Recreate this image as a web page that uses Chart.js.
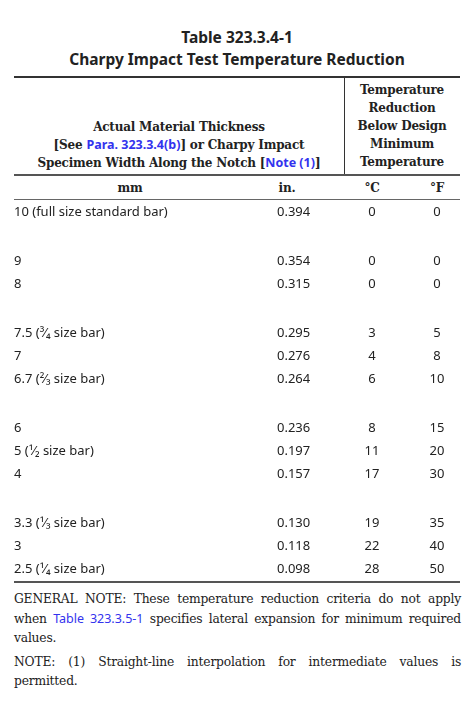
<!DOCTYPE html>
<html><head><meta charset="utf-8">
<script src="https://cdn.jsdelivr.net/npm/chart.js@4"></script>
<style>
body{margin:0;width:468px;height:715px;background:#fff;position:relative;font-family:"DejaVu Serif",serif;color:#222;}
.abs{position:absolute;}
.title{left:0;width:474px;text-align:center;font-family:"Noto Sans",sans-serif;font-weight:bold;font-size:15.5px;line-height:22px;top:26px;color:#222;}
.rule{left:14px;width:446px;background:#333;}
.hdr{font-weight:bold;font-size:12px;line-height:18px;text-align:center;letter-spacing:-0.2px;}
a{color:#3333ee;text-decoration:none;font-family:"Noto Sans",sans-serif;font-weight:bold;font-size:12.5px;letter-spacing:0;}
.note{left:14px;width:447px;font-size:12.3px;line-height:19px;text-align:justify;letter-spacing:-0.2px;}
.note a{font-weight:normal;}
</style></head><body>
<div class="abs title">Table 323.3.4-1<br>Charpy Impact Test Temperature Reduction</div>
<div class="abs rule" style="top:76px;height:2px"></div>
<div class="abs" style="left:344px;top:77px;width:1px;height:98px;background:#333"></div>
<div class="abs hdr" style="left:14px;width:330px;top:118px">Actual Material Thickness<br>[See <a>Para. 323.3.4(b)</a>] or Charpy Impact<br>Specimen Width Along the Notch [<a>Note (1)</a>]</div>
<div class="abs hdr" style="left:344px;width:116px;top:81px">Temperature<br>Reduction<br>Below Design<br>Minimum<br>Temperature</div>
<div class="abs rule" style="top:174px;height:2px;background:#555"></div>
<div class="abs hdr" style="left:100px;width:60px;top:179px">mm</div>
<div class="abs hdr" style="left:262px;width:50px;top:179px">in.</div>
<div class="abs hdr" style="left:352px;width:40px;top:179px">°C</div>
<div class="abs hdr" style="left:417px;width:40px;top:179px">°F</div>
<div class="abs rule" style="top:199px;height:1px;background:#666"></div>
<div class="abs" style="left:0;top:201px;width:468px;height:380px"><canvas id="c"></canvas></div>
<div class="abs rule" style="top:581px;height:2px;background:#555"></div>
<div class="abs note" style="top:590px">GENERAL NOTE: These temperature reduction criteria do not apply when <a>Table 323.3.5-1</a> specifies lateral expansion for minimum required values.</div>
<div class="abs note" style="top:653px">NOTE: (1) Straight-line interpolation for intermediate values is permitted.</div>
<script>
const mmLabels=["10 (full size standard bar)","9","8","7.5 (³⁄₄ size bar)","7","6.7 (²⁄₃ size bar)","6","5 (¹⁄₂ size bar)","4","3.3 (¹⁄₃ size bar)","3","2.5 (¹⁄₄ size bar)"];
const inches=["0.394","0.354","0.315","0.295","0.276","0.264","0.236","0.197","0.157","0.130","0.118","0.098"];
const degC=[0,0,0,3,4,6,8,11,17,19,22,28];
const degF=[0,0,0,5,8,10,15,20,30,35,40,50];
const groups=[0,1,1,2,2,2,3,3,3,4,4,4];
const slots=groups.map((g,i)=>i+g*1.1);
const cols=[{x:14,align:'left',data:mmLabels},{x:277,align:'left',data:inches},{x:372,align:'center',data:degC},{x:437,align:'center',data:degF}];
const textPlugin={id:'txt',afterDatasetsDraw(chart){
 const ctx=chart.ctx;ctx.save();ctx.fillStyle='#222';ctx.font='13px "Noto Sans", sans-serif';ctx.textBaseline='middle';
 chart.data.datasets.forEach((ds,di)=>{const meta=chart.getDatasetMeta(di);ctx.textAlign=cols[di].align;
  meta.data.forEach((el,i)=>ctx.fillText(String(ds.labels[i]),el.x,el.y));});
 ctx.restore();}};
new Chart(document.getElementById('c'),{type:'scatter',
 data:{datasets:cols.map(c=>({labels:c.data,data:c.data.map((v,i)=>({x:c.x,y:slots[i]})),pointRadius:0}))},
 options:{responsive:true,maintainAspectRatio:false,animation:false,layout:{padding:0},
  plugins:{legend:{display:false},tooltip:{enabled:false}},
  scales:{x:{type:'linear',min:0,max:468,display:false},y:{type:'linear',min:-0.5,max:15.9,reverse:true,display:false}}},
 plugins:[textPlugin]});
</script>
</body></html>
